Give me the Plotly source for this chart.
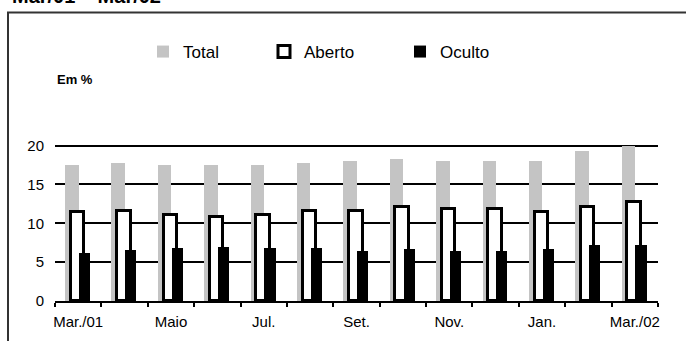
import plotly.graph_objects as go

# Monthly series, Mar./01 to Mar./02 (in %)
months = ["Mar./01", "Abr.", "Maio", "Jun.", "Jul.", "Ago.", "Set.",
          "Out.", "Nov.", "Dez.", "Jan.", "Fev.", "Mar./02"]
total = [17.5, 17.8, 17.5, 17.5, 17.5, 17.8, 18.0, 18.3, 18.0, 18.0, 18.0, 19.3, 20.0]
aberto = [11.4, 11.6, 11.1, 10.8, 11.1, 11.6, 11.6, 12.1, 11.8, 11.8, 11.5, 12.1, 12.8]
oculto = [6.2, 6.5, 6.8, 7.0, 6.8, 6.8, 6.4, 6.7, 6.4, 6.4, 6.7, 7.2, 7.2]

# Only every other month is labelled on the axis
label_idx = [0, 2, 4, 6, 8, 10, 12]
label_txt = [months[i] for i in label_idx]
y_ticks = [0, 5, 10, 15, 20]

W, H = 686, 341
ML, MR, MT, MB = 55, 28, 144, 40
PW, PH = W - ML - MR, H - MT - MB


def px_x(px):
    return (px - ML) / PW


def px_y(py):
    return (H - MB - py) / PH


FONT = "Liberation Sans, Arial, sans-serif"
x = list(range(len(months)))

fig = go.Figure()
fig.add_trace(go.Bar(
    x=x, y=total, name="Total", width=0.29, offset=-0.283,
    marker=dict(color="#c4c4c4", line=dict(width=0)), legend="legend"))
fig.add_trace(go.Bar(
    x=x, y=aberto, name="Aberto", width=0.29, offset=-0.16,
    marker=dict(color="white", line=dict(color="black", width=3)), legend="legend2"))
fig.add_trace(go.Bar(
    x=x, y=oculto, name="Oculto", width=0.241, offset=0.0135,
    marker=dict(color="black", line=dict(width=0)), legend="legend3"))

leg_common = dict(orientation="h", xanchor="left", yanchor="middle",
                  bgcolor="rgba(0,0,0,0)", borderwidth=0,
                  font=dict(family=FONT, size=17, color="black"))
y_leg = px_y(52)
fig.update_layout(
    legend=dict(x=px_x(143), y=y_leg, **leg_common),
    legend2=dict(x=px_x(264), y=y_leg, **leg_common),
    legend3=dict(x=px_x(400), y=y_leg, **leg_common),
)

fig.update_layout(
    width=W, height=H,
    margin=dict(l=ML, r=MR, t=MT, b=MB, pad=0),
    paper_bgcolor="white", plot_bgcolor="white",
    barmode="overlay", bargap=0,
    font=dict(family=FONT, color="black"),
    showlegend=True,
    xaxis=dict(
        range=[-0.5, len(months) - 0.5], tickmode="array",
        tickvals=label_idx, ticktext=label_txt, ticks="",
        tickfont=dict(family=FONT, size=15, color="black"),
        showgrid=False, zeroline=False,
        showline=True, linecolor="black", linewidth=1.5,
        ticklabelstandoff=6,
        minor=dict(tickvals=[i - 0.5 for i in range(len(months) + 1)],
                   ticks="outside", ticklen=4, tickwidth=1.5, tickcolor="black",
                   showgrid=False),
        fixedrange=True,
    ),
    yaxis=dict(
        # a little headroom so the 20 gridline is drawn in full
        range=[y_ticks[0], y_ticks[-1] + 0.2], tickmode="array", tickvals=y_ticks,
        ticks="", tickfont=dict(family=FONT, size=15, color="black"),
        showgrid=True, gridcolor="black", gridwidth=1.5,
        zeroline=False, showline=False, ticklabelstandoff=10,
        fixedrange=True,
    ),
    shapes=[
        # outer frame around the chart
        dict(type="rect", xref="paper", yref="paper",
             x0=px_x(8), x1=px_x(W + 20), y0=px_y(H + 20), y1=px_y(12.5),
             line=dict(color="#333333", width=2), fillcolor="rgba(0,0,0,0)",
             layer="above"),
    ],
    annotations=[
        dict(text="<b>Mar/01 – Mar/02</b>", xref="paper", yref="paper",
             x=px_x(10), y=px_y(-4), xanchor="left", yanchor="middle",
             showarrow=False, font=dict(family=FONT, size=20, color="black")),
        dict(text="<b>Em %</b>", xref="paper", yref="paper",
             x=px_x(55), y=px_y(79), xanchor="left", yanchor="middle",
             showarrow=False, font=dict(family=FONT, size=13, color="black")),
    ],
)

fig.write_html("out.html", config={"displayModeBar": False})
